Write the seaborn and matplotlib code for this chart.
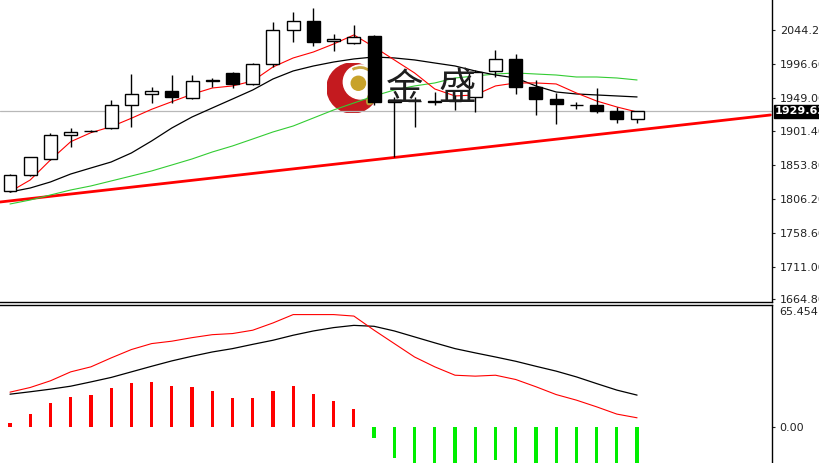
import numpy as np
import matplotlib
matplotlib.use('Agg')
import matplotlib.pyplot as plt
import matplotlib.transforms as mtransforms
from matplotlib.patches import Circle, Ellipse, Arc
import seaborn as sns

# candles (price)
opens = [1817.5, 1839.6, 1862.1, 1895.9, 1901.3, 1905.8, 1938.2, 1953.7, 1958.3, 1948.9,
         1972.0, 1984.1, 1968.2, 1995.9, 2044.2, 2057.3, 2028.7, 2025.5, 2036.2, 1943.3,
         1943.5, 1943.3, 1944.2, 1949.4, 1986.9, 2002.9, 1963.5, 1946.6, 1938.6, 1938.2,
         1930.6, 1919.3]
closes = [1840.0, 1865.0, 1896.4, 1901.0, 1902.0, 1938.6, 1954.1, 1958.7, 1949.9, 1972.4,
          1973.8, 1967.7, 1995.9, 2044.2, 2057.3, 2027.7, 2031.5, 2034.3, 1943.3, 1945.0,
          1944.7, 1944.2, 1945.5, 1985.5, 2002.9, 1963.5, 1946.6, 1939.6, 1939.0, 1930.6,
          1919.3, 1929.63]
highs = [1841.9, 1865.8, 1899.6, 1905.8, 1903.0, 1945.6, 1982.2, 1964.4, 1981.3, 1981.3,
         1977.0, 1985.1, 1997.3, 2055.9, 2070.0, 2074.8, 2038.1, 2050.8, 2037.2, 1949.9,
         1949.9, 1957.3, 1952.7, 1987.9, 2016.0, 2010.4, 1973.8, 1955.9, 1943.3, 1962.1,
         1936.2, 1930.1]
lows = [1816.1, 1838.6, 1861.2, 1879.0, 1900.2, 1904.8, 1908.0, 1941.8, 1941.0, 1946.6,
        1964.4, 1962.1, 1966.8, 1992.5, 2027.7, 2022.1, 2015.1, 2024.5, 1938.6, 1865.8,
        1908.0, 1938.6, 1931.6, 1929.2, 1977.6, 1953.7, 1924.5, 1911.8, 1932.5, 1927.8,
        1913.7, 1913.7]

# moving averages
ma_fast = [1816.5, 1833.0, 1861.2, 1886.9, 1899.6, 1908.0, 1919.9, 1932.5, 1943.2, 1953.7,
           1962.5, 1965.4, 1972.4, 1992.1, 2004.8, 2013.2, 2024.5, 2037.2, 2020.3, 2002.0,
           1983.7, 1961.1, 1951.3, 1952.7, 1965.4, 1969.6, 1969.6, 1968.2, 1955.5, 1944.2,
           1935.8, 1928.7]
ma_mid = [1816.1, 1821.7, 1830.2, 1841.4, 1849.9, 1858.3, 1871.0, 1887.9, 1906.2, 1921.7,
          1934.4, 1947.0, 1959.7, 1975.2, 1986.5, 1993.5, 1999.1, 2003.4, 2006.2, 2004.8,
          2002.0, 1997.7, 1993.5, 1986.5, 1980.8, 1976.6, 1965.4, 1956.9, 1954.1, 1952.7,
          1951.3, 1949.9]
ma_slow = [1799.2, 1804.8, 1811.9, 1818.9, 1824.6, 1831.6, 1838.6, 1845.7, 1854.1, 1862.6,
           1872.4, 1880.9, 1890.7, 1900.6, 1909.0, 1920.3, 1931.6, 1941.4, 1951.3, 1959.7,
           1965.4, 1969.6, 1976.6, 1979.4, 1982.2, 1983.7, 1982.2, 1980.8, 1978.0, 1978.0,
           1976.6, 1973.8]

# trend line anchors (bar index, price)
trend_x = [-0.49, 37.59]
trend_y = [1802.0, 1924.5]
last_price = 1929.63

price_ticks = [2044.2, 1996.6, 1949.0, 1901.4, 1853.8, 1806.2, 1758.6, 1711.0, 1664.8]

# MACD panel
dif = [18.6, 21.1, 24.7, 29.5, 32.2, 37.0, 41.5, 44.7, 46.0, 47.9,
       49.5, 50.1, 51.9, 55.8, 60.3, 60.3, 60.3, 59.5, 51.9, 44.7,
       37.5, 32.2, 27.7, 27.2, 27.7, 25.4, 21.5, 17.3, 14.3, 10.7,
       6.8, 4.8]
dea = [17.5, 18.8, 20.2, 21.8, 24.1, 26.5, 29.5, 32.5, 35.4, 37.9,
       40.2, 42.0, 44.3, 46.5, 49.2, 51.5, 53.3, 54.5, 54.0, 51.5,
       48.3, 45.1, 42.0, 39.7, 37.5, 35.2, 32.5, 29.9, 26.8, 23.2,
       19.7, 17.0]
hist = [2.15, 6.6, 12.5, 15.9, 17.0, 20.9, 23.4, 24.0, 21.8, 21.3,
        19.1, 15.4, 15.4, 19.1, 21.8, 17.5, 13.8, 9.8, -5.9, -17.0,
        -24.0, -28.0, -30.0, -27.0, -17.9, -22.0, -25.0, -25.0, -25.0, -25.0,
        -26.0, -24.0]
macd_top = 65.454

sns.set_style('white')
plt.rcParams['font.family'] = ['DejaVu Sans']

idx = np.arange(len(opens))
o = np.array(opens)
c = np.array(closes)

W, H = 820, 463
fig = plt.figure(figsize=(W / 100, H / 100), dpi=100)
ax = fig.add_axes([0, 161 / H, 772 / W, 302 / H])
ax2 = fig.add_axes([0, 0, 772 / W, 158 / H])
logo = fig.add_axes([327 / W, 1 - 113 / H, 51 / W, 50 / H])
logo.set_zorder(0)
ax.set_zorder(2)
ax.patch.set_visible(False)

# logo (watermark)
logo.set_xlim(-1, 1)
logo.set_ylim(-1, 1)
logo.axis('off')
logo.add_patch(Circle((0, 0), 1.0, color='#c41a1f'))
logo.add_patch(Circle((0.32, 0.24), 0.68, color='white'))
logo.add_patch(Arc((0.3, 0.22), 1.2, 1.2, theta1=-20, theta2=120, color='#c9a640', lw=2))
logo.add_patch(Circle((0.23, 0.19), 0.28, color='#c8a22a'))
logo.add_patch(Ellipse((0.78, -0.35), 0.32, 0.7, angle=-30, color='#b9a43a'))

# price panel
sns.lineplot(x=trend_x, y=trend_y, ax=ax, color='#ff0000', linewidth=2, zorder=2)
sns.lineplot(x=idx, y=ma_slow, ax=ax, color='#33cc33', linewidth=0.8, zorder=3)
sns.lineplot(x=idx, y=ma_mid, ax=ax, color='black', linewidth=0.9, zorder=3)
sns.lineplot(x=idx, y=ma_fast, ax=ax, color='#ff0000', linewidth=0.8, zorder=3)
ax.axhline(last_price, color='#b8b8b8', linewidth=0.9, zorder=1)

ax.vlines(idx, lows, highs, color='black', linewidth=1, zorder=4)
body_lo = np.minimum(o, c)
body_h = np.maximum(np.abs(c - o), 0.6)
fills = ['white' if cc >= oo else 'black' for oo, cc in zip(o, c)]
ax.bar(idx, body_h, bottom=body_lo, width=0.64, color=fills,
       edgecolor='black', linewidth=1, zorder=5)

ax.text(405 / 772, 1 - 89 / 302, '金', transform=ax.transAxes, fontsize=27,
        family=['Noto Sans CJK SC'], color='#1e1e1e', ha='center', va='center', zorder=6)
ax.text(457 / 772, 1 - 88 / 302, '盛', transform=ax.transAxes, fontsize=27,
        family=['Noto Sans CJK SC'], color='#1e1e1e', ha='center', va='center', zorder=6)

ax.set_xlim(-0.494, 37.67)
ax.set_ylim(1661.2, 2086.4)
ax.set_xticks([])
ax.yaxis.tick_right()
ax.set_yticks(price_ticks)
ax.set_yticklabels([f'{t:.2f}' for t in price_ticks])
ax.tick_params(axis='y', direction='out', length=2.5, width=0.8, pad=3,
               labelsize=8, colors='#222222', right=True, left=False)
for side in ['left', 'top']:
    ax.spines[side].set_visible(False)
for side in ['right', 'bottom']:
    ax.spines[side].set_color('black')
    ax.spines[side].set_linewidth(1)
ax.set_xlabel('')
ax.set_ylabel('')

trans = mtransforms.blended_transform_factory(ax.transAxes, ax.transData)
ax.text(1.004, last_price, f'{last_price:.2f}', transform=trans, fontsize=8,
        fontweight='bold', color='white', ha='left', va='center', clip_on=False,
        bbox=dict(facecolor='black', edgecolor='black', pad=1.0), zorder=10)

# MACD panel
h = np.array(hist)
bar_colors = ['#ff0000' if v >= 0 else '#00ee00' for v in h]
ax2.bar(idx, h, width=0.16, color=bar_colors, linewidth=0, zorder=2)
sns.lineplot(x=idx, y=dea, ax=ax2, color='black', linewidth=0.9, zorder=3)
sns.lineplot(x=idx, y=dif, ax=ax2, color='#ff0000', linewidth=0.8, zorder=3)
ax2.set_xlim(-0.494, 37.67)
ax2.set_ylim(-19.5, macd_top)
ax2.set_xticks([])
ax2.yaxis.tick_right()
ax2.set_yticks([0])
ax2.set_yticklabels(['0.00'])
ax2.tick_params(axis='y', direction='out', length=2.5, width=0.8, pad=3,
                labelsize=8, colors='#222222', right=True, left=False)
for side in ['left', 'bottom']:
    ax2.spines[side].set_visible(False)
for side in ['right', 'top']:
    ax2.spines[side].set_color('black')
    ax2.spines[side].set_linewidth(1)
ax2.set_xlabel('')
ax2.set_ylabel('')
ax2.text(1.010, 0.99, f'{macd_top:.3f}', transform=ax2.transAxes, fontsize=8,
         color='#222222', ha='left', va='top')

fig.savefig('out.png', dpi=100)
